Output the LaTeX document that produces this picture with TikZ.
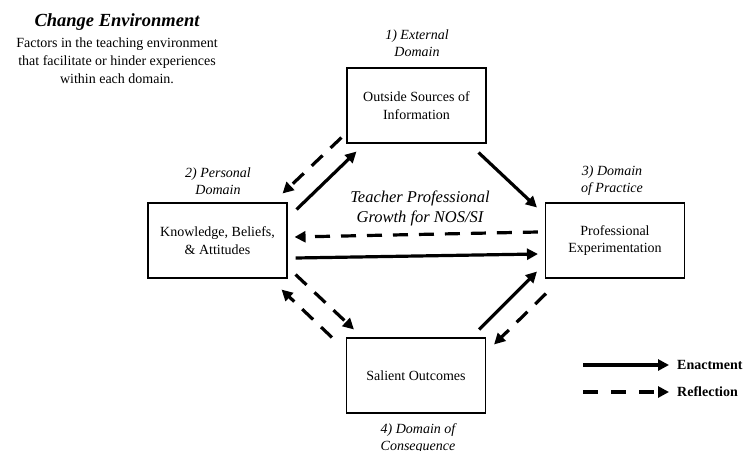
\documentclass[tikz,border=0pt]{standalone}
\usepackage{fontspec}
\setmainfont{Liberation Serif}
\usetikzlibrary{arrows.meta,calc}
\begin{document}
\begin{tikzpicture}[x=1pt,y=-1pt,
  domainbox/.style={draw,line width=1.1pt,minimum width=139pt,minimum height=75pt,
    align=center,font=\fontsize{14}{17.5}\selectfont,inner sep=0pt},
  domainlabel/.style={align=center,font=\fontsize{14}{17}\selectfont\itshape,inner sep=0pt},
  enact/.style={line width=3.2pt,-{Triangle[length=11pt,width=11pt]}},
  reflect/.style={line width=3.2pt,dash pattern=on 15pt off 11pt,-{Triangle[length=11pt,width=11pt]}},
  legendtext/.style={anchor=west,font=\fontsize{14}{17}\selectfont\bfseries,inner sep=0pt}]
\useasboundingbox (0,0) rectangle (743,450);

% four domains
\node[domainbox] (out) at (416.5,105.5) {Outside Sources of\\Information};
\node[domainbox] (kba) at (217.5,240.5) {Knowledge, Beliefs,\\\& Attitudes};
\node[domainbox] (pro) at (615,240.5) {Professional\\Experimentation};
\node[domainbox] (sal) at (416,375.5) {Salient Outcomes};

% domain captions
\node[domainlabel] (l1) at (417,43) {1) External\\Domain};
\node[domainlabel] (l2) at (218,181) {2) Personal\\Domain};
\node[domainlabel] (l3) at (612,181) {3) Domain\\of Practice};
\node[domainlabel] (l4) at (418,439) {4) Domain of\\Consequence};

% central title
\node[align=center,inner sep=0pt,font=\fontsize{16.5}{20}\selectfont\itshape] (growth) at (420,208)
  {Teacher Professional\\Growth for NOS/SI};

% environment note
\node[inner sep=0pt,font=\fontsize{18.5}{20}\selectfont\bfseries\itshape] (env) at (117,22) {Change Environment};
\node[align=center,inner sep=0pt,font=\fontsize{14}{18}\selectfont] (envtext) at (117,61)
  {Factors in the teaching environment\\that facilitate or hinder experiences\\within each domain.};

% connectors between domains
\draw[enact]   ([shift={(9,7)}]kba.north east) -- ([shift={(10,8)}]out.south west);
\draw[reflect] ([shift={(-5,-6)}]out.south west) -- ([shift={(-5,-9)}]kba.north east);
\draw[enact]   ([shift={(-8,9)}]out.south east) -- ([shift={(-8,5)}]pro.north west);
\draw[reflect] ([shift={(-7,-8.5)}]pro.west) -- ([shift={(7,-3.5)}]kba.east);
\draw[enact]   ([shift={(8,17.5)}]kba.east) -- ([shift={(-7,13.5)}]pro.west);
\draw[reflect] ([shift={(8,-4)}]kba.south east) -- ([shift={(8,-8)}]sal.north west);
\draw[reflect] ([shift={(-14,0)}]sal.north west) -- ([shift={(-6,11)}]kba.south east);
\draw[enact]   ([shift={(-7,-8)}]sal.north east) -- ([shift={(-8,-7)}]pro.south west);
\draw[reflect] ([shift={(1,15)}]pro.south west) -- ([shift={(8,7)}]sal.north east);

% legend
\node[legendtext] (enacttext) at (677,365) {Enactment};
\node[legendtext] (reflecttext) at (677,392) {Reflection};
\coordinate (e0) at (583,365);
\coordinate (r0) at (583,392);
\draw[enact] (e0) -- ([xshift=-8pt]enacttext.west);
\draw[reflect,dash pattern=on 15pt off 13pt] (r0) -- ([xshift=-8pt]reflecttext.west);
\end{tikzpicture}
\end{document}
